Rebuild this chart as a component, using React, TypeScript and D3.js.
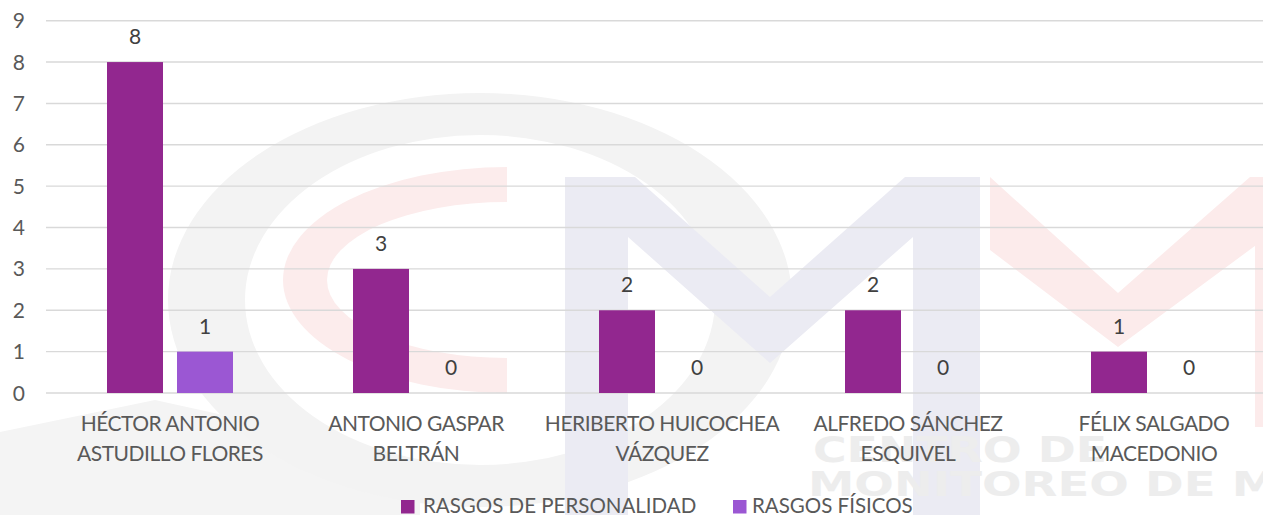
import React from "react";
import * as d3 from "d3";

const categories = [
  "HÉCTOR ANTONIO ASTUDILLO FLORES",
  "ANTONIO GASPAR BELTRÁN",
  "HERIBERTO HUICOCHEA VÁZQUEZ",
  "ALFREDO SÁNCHEZ ESQUIVEL",
  "FÉLIX SALGADO MACEDONIO",
];
const categoryLines = [
  ["HÉCTOR ANTONIO", "ASTUDILLO FLORES"],
  ["ANTONIO GASPAR", "BELTRÁN"],
  ["HERIBERTO HUICOCHEA", "VÁZQUEZ"],
  ["ALFREDO SÁNCHEZ", "ESQUIVEL"],
  ["FÉLIX SALGADO", "MACEDONIO"],
];
const seriesNames = ["RASGOS DE PERSONALIDAD", "RASGOS FÍSICOS"];
const personalidad = [8, 3, 2, 2, 1];
const fisicos = [1, 0, 0, 0, 0];
const yTicks = [0, 1, 2, 3, 4, 5, 6, 7, 8, 9];
const colors = ["#92278F", "#9B57D3"];

const W = 1263;
const H = 515;
const FONT = "Lato, 'Open Sans', sans-serif";
const TEXT = "#595959";

function ellipseRing(cx: number, cy: number, rxo: number, ryo: number, rxi: number, ryi: number) {
  return (
    `M${cx - rxo},${cy} a${rxo},${ryo} 0 1,0 ${2 * rxo},0 a${rxo},${ryo} 0 1,0 ${-2 * rxo},0 Z ` +
    `M${cx - rxi},${cy} a${rxi},${ryi} 0 1,0 ${2 * rxi},0 a${rxi},${ryi} 0 1,0 ${-2 * rxi},0 Z`
  );
}
function leftHalfRing(cx: number, cy: number, rxo: number, ryo: number, rxi: number, ryi: number) {
  return `M${cx},${cy - ryo} A${rxo},${ryo} 0 0,0 ${cx},${cy + ryo} L${cx},${cy + ryi} A${rxi},${ryi} 0 0,1 ${cx},${cy - ryi} Z`;
}

function Watermark() {
  const line = d3.line();
  const mShape: [number, number][] = [
    [565, 515], [565, 177], [635, 177], [770, 297], [905, 177], [980, 177],
    [980, 515], [913, 515], [913, 237], [770, 363], [628, 237], [628, 515],
  ];
  const redV: [number, number][] = [
    [990, 177], [1118, 293], [1250, 177], [1263, 177], [1263, 240], [1118, 347], [990, 250],
  ];
  const swoosh: [number, number][] = [
    [0, 432], [155, 400], [300, 432], [420, 478], [420, 515], [0, 515],
  ];
  return (
    <g>
      <path d={line(swoosh) + "Z"} fill="#f4f4f4" />
      <path d={ellipseRing(480, 300, 312, 207, 235, 165)} fill="#f3f3f3" fillRule="evenodd" />
      <path d={leftHalfRing(507, 280, 224, 113, 180, 78)} fill="#fcecec" />
      <path d={line(mShape) + "Z"} fill="#ebebf3" />
      <path d={line(redV) + "Z"} fill="#fcebeb" />
      <rect x={1255} y={177} width={8} height={250} fill="#fcebeb" />
      <text x={813} y={462} fontFamily="'DejaVu Sans', sans-serif" fontWeight="bold" fontSize={36}
        fill="#ededed" textLength={294} lengthAdjust="spacingAndGlyphs">CENTRO DE</text>
      <text x={808} y={496} fontFamily="'DejaVu Sans', sans-serif" fontWeight="bold" fontSize={33}
        fill="#ededed" textLength={470} lengthAdjust="spacingAndGlyphs">MONITOREO DE M</text>
    </g>
  );
}

export default function App() {
  const y = d3.scaleLinear().domain([0, 9]).range([393, 20.7]);
  const x0 = d3
    .scaleBand<string>()
    .domain(categories)
    .range([47, 1277])
    .paddingInner(120 / 246)
    .paddingOuter(60 / 246);
  const x1 = d3.scaleBand<string>().domain(seriesNames).range([0, x0.bandwidth()]).paddingInner(0.2);
  const series = [personalidad, fisicos];

  return (
    <div style={{ position: "absolute", left: 0, top: 0, width: W, height: H, background: "#fff" }}>
      <svg width={W} height={H} style={{ display: "block" }}>
        <rect width={W} height={H} fill="#fff" />
        <Watermark />
        {yTicks.map((t) => (
          <g key={t}>
            <line x1={46} x2={W} y1={y(t)} y2={y(t)} stroke="#d9d9d9" strokeWidth={1.4} />
            <text x={25} y={y(t)} dy="0.36em" textAnchor="end" fontFamily={FONT} fontSize={21} fill={TEXT}>
              {t}
            </text>
          </g>
        ))}
        {categories.map((c, i) => (
          <g key={c} transform={`translate(${x0(c)},0)`}>
            {seriesNames.map((s, j) => {
              const v = series[j][i];
              const bx = x1(s)!;
              return (
                <g key={s}>
                  <rect x={bx} y={y(v)} width={x1.bandwidth()} height={y(0) - y(v)} fill={colors[j]} />
                  <text x={bx + x1.bandwidth() / 2} y={y(v) - 18} textAnchor="middle" fontFamily={FONT}
                    fontSize={21} fill="#404040">{v}</text>
                </g>
              );
            })}
            {categoryLines[i].map((ln, k) => (
              <text key={k} x={x0.bandwidth() / 2} y={431 + k * 30} textAnchor="middle" fontFamily={FONT}
                fontSize={21} letterSpacing={-0.5} fill={TEXT}>{ln}</text>
            ))}
          </g>
        ))}
        <g>
          <rect x={401} y={500} width={13.5} height={13.5} fill={colors[0]} />
          <text x={423} y={512.5} fontFamily={FONT} fontSize={20.5} fill={TEXT}>{seriesNames[0]}</text>
          <rect x={733} y={500} width={13.5} height={13.5} fill={colors[1]} />
          <text x={752} y={512.5} fontFamily={FONT} fontSize={20.5} fill={TEXT}>{seriesNames[1]}</text>
        </g>
      </svg>
    </div>
  );
}
